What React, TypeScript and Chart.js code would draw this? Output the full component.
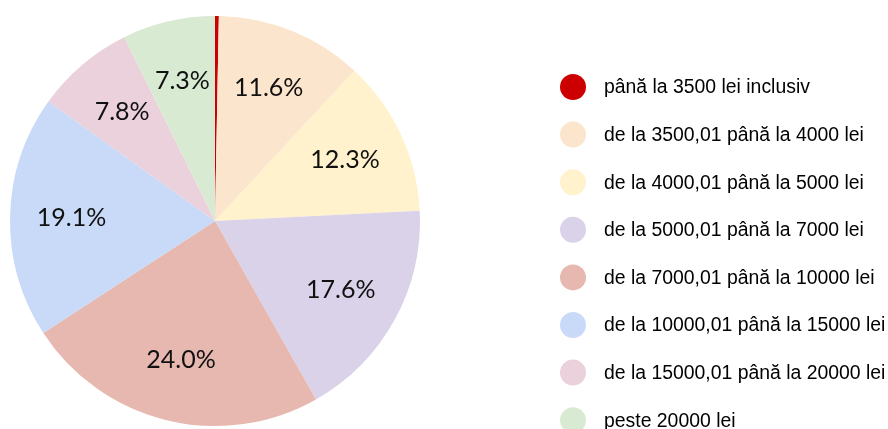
import React, { useEffect, useRef } from "react";
import { Chart, registerables } from "chart.js";

Chart.register(...registerables);

const categories = [
  "până la 3500 lei inclusiv",
  "de la 3500,01 până la 4000 lei",
  "de la 4000,01 până la 5000 lei",
  "de la 5000,01 până la 7000 lei",
  "de la 7000,01 până la 10000 lei",
  "de la 10000,01 până la 15000 lei",
  "de la 15000,01 până la 20000 lei",
  "peste 20000 lei",
];
const values = [0.3, 11.6, 12.3, 17.6, 24.0, 19.1, 7.8, 7.3];
const labels = ["", "11.6%", "12.3%", "17.6%", "24.0%", "19.1%", "7.8%", "7.3%"];
const colors = [
  "#cc0000",
  "#fce5cd",
  "#fff2cc",
  "#d9d2e9",
  "#e6b8af",
  "#c9daf8",
  "#ead1dc",
  "#d9ead3",
];

const labelPlugin = {
  id: "sliceLabels",
  afterDatasetsDraw(chart: any) {
    const ctx = chart.ctx;
    const meta = chart.getDatasetMeta(0);
    ctx.save();
    ctx.font = '25px Lato, "Open Sans", sans-serif';
    ctx.fillStyle = "#111";
    ctx.textAlign = "center";
    ctx.textBaseline = "middle";
    meta.data.forEach((arc: any, i: number) => {
      const t = labels[i];
      if (!t) return;
      const p = arc.getProps(["x", "y", "startAngle", "endAngle", "outerRadius"], true);
      const mid = (p.startAngle + p.endAngle) / 2;
      const r = p.outerRadius * 0.7;
      ctx.fillText(t, p.x + Math.cos(mid) * r, p.y + Math.sin(mid) * r);
    });
    ctx.restore();
  },
};

const legendPlugin = {
  id: "customLegend",
  afterDraw(chart: any) {
    const ctx = chart.ctx;
    const cats: string[] = chart.data.labels;
    const cols: string[] = chart.data.datasets[0].backgroundColor;
    ctx.save();
    ctx.font = '19.4px "Liberation Sans", Arial, sans-serif';
    ctx.textAlign = "left";
    ctx.textBaseline = "middle";
    cats.forEach((c, i) => {
      const y = 87 + i * 47.6;
      ctx.beginPath();
      ctx.fillStyle = cols[i];
      ctx.arc(573, y, 13, 0, Math.PI * 2);
      ctx.fill();
      ctx.fillStyle = "#000";
      ctx.fillText(c, 604, y + 1);
    });
    ctx.restore();
  },
};

export default function App() {
  const ref = useRef<HTMLCanvasElement | null>(null);
  useEffect(() => {
    document.body.style.margin = "0";
    const chart = new Chart(ref.current as HTMLCanvasElement, {
      type: "pie",
      data: {
        labels: categories,
        datasets: [
          {
            data: values,
            backgroundColor: colors,
            borderWidth: 0,
            hoverOffset: 0,
            offset: 0,
          },
        ],
      },
      options: {
        animation: false,
        responsive: false,
        events: [],
        layout: { padding: { left: 10, top: 16, bottom: 3, right: 468 } },
        plugins: {
          legend: { display: false },
          tooltip: { enabled: false },
        },
      },
      plugins: [labelPlugin, legendPlugin],
    });
    return () => chart.destroy();
  }, []);
  return (
    <div style={{ width: 888, height: 429, background: "#fff" }}>
      <canvas ref={ref} width={888} height={429} />
    </div>
  );
}
